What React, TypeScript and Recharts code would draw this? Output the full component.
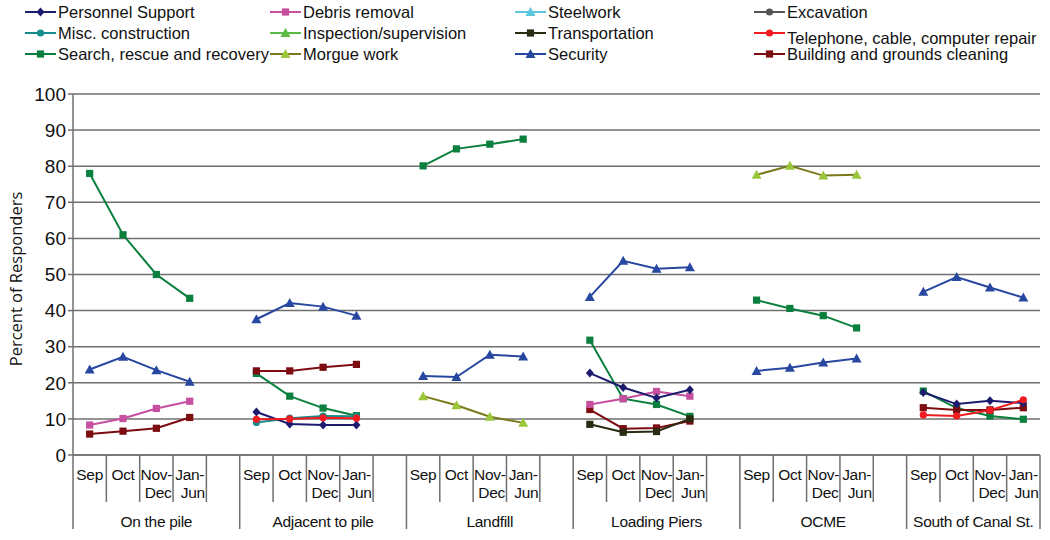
import React from 'react';
import { LineChart, Line, XAxis, YAxis, CartesianGrid } from 'recharts';

const W = 1050;
const H = 540;
const PLOT_LEFT = 73;
const PLOT_RIGHT = 1040;
const AXIS_Y = 455;
const TOP = 94;
const FONT = '"Liberation Sans", Arial, sans-serif';

const N = null;

// categories
const groups = ['On the pile', 'Adjacent to pile', 'Landfill', 'Loading Piers', 'OCME', 'South of Canal St.'];
const months = [['Sep'], ['Oct'], ['Nov-', 'Dec'], ['Jan-', 'Jun']];
const yTicks = [0, 10, 20, 30, 40, 50, 60, 70, 80, 90, 100];

// series values, 4 months x 6 groups
const personnel = [N, N, N, N, 11.9, 8.6, 8.3, 8.3, N, N, N, N, 22.7, 18.7, 15.8, 18.1, N, N, N, N, 17.3, 14.1, 15.0, 14.4];
const debris = [8.3, 10.1, 12.9, 14.9, N, N, N, N, N, N, N, N, 14.0, 15.6, 17.6, 16.3, N, N, N, N, N, N, N, N];
const steelwork = [N, N, N, N, N, N, N, N, N, N, N, N, N, N, N, N, N, N, N, N, N, N, N, N];
const excavation = [N, N, N, N, N, N, N, N, N, N, N, N, N, N, N, N, N, N, N, N, N, N, N, N];
const misc = [N, N, N, N, 9.0, 10.2, 10.8, 10.7, N, N, N, N, N, N, N, N, N, N, N, N, N, N, N, N];
const inspection = [N, N, N, N, N, N, N, N, N, N, N, N, N, N, N, N, N, N, N, N, N, N, N, N];
const transport = [N, N, N, N, N, N, N, N, N, N, N, N, 8.5, 6.3, 6.5, 10.0, N, N, N, N, N, N, N, N];
const telephone = [N, N, N, N, 9.9, 10.0, 10.3, 10.2, N, N, N, N, N, N, N, N, N, N, N, N, 11.1, 10.8, 12.4, 15.3];
const search = [78.0, 61.0, 50.0, 43.4, 22.6, 16.3, 13.0, 10.9, 80.1, 84.8, 86.1, 87.5, 31.8, 15.6, 14.0, 10.7, 42.9, 40.6, 38.6, 35.2, 17.7, 13.0, 10.8, 9.9];
const morgue = [N, N, N, N, N, N, N, N, 16.3, 13.8, 10.6, 8.9, N, N, N, N, 77.6, 80.1, 77.4, 77.6, N, N, N, N];
const security = [23.7, 27.2, 23.5, 20.3, 37.6, 42.1, 41.1, 38.6, 21.9, 21.6, 27.8, 27.3, 43.8, 53.8, 51.6, 52.0, 23.3, 24.2, 25.6, 26.7, 45.2, 49.3, 46.4, 43.6];
const building = [5.8, 6.6, 7.4, 10.4, 23.3, 23.3, 24.3, 25.1, N, N, N, N, 12.6, 7.3, 7.5, 9.4, N, N, N, N, 13.1, 12.5, 12.5, 13.1];

type Shape = 'diamond' | 'square' | 'triangle' | 'circle';
interface Series { key: string; name: string; values: (number | null)[]; color: string; marker: string; shape: Shape }

// legend order, row by row
const series: Series[] = [
  { key: 'personnel', name: 'Personnel Support', values: personnel, color: '#1d1b6e', marker: '#1d1b6e', shape: 'diamond' },
  { key: 'debris', name: 'Debris removal', values: debris, color: '#c64f9f', marker: '#c64f9f', shape: 'square' },
  { key: 'steelwork', name: 'Steelwork', values: steelwork, color: '#5cc6de', marker: '#5cc6de', shape: 'triangle' },
  { key: 'excavation', name: 'Excavation', values: excavation, color: '#555555', marker: '#555555', shape: 'circle' },
  { key: 'misc', name: 'Misc. construction', values: misc, color: '#168c8c', marker: '#168c8c', shape: 'circle' },
  { key: 'inspection', name: 'Inspection/supervision', values: inspection, color: '#5cbb45', marker: '#5cbb45', shape: 'triangle' },
  { key: 'transport', name: 'Transportation', values: transport, color: '#2b2b14', marker: '#2b2b14', shape: 'square' },
  { key: 'telephone', name: 'Telephone, cable, computer repair', values: telephone, color: '#f01c22', marker: '#f01c22', shape: 'circle' },
  { key: 'search', name: 'Search, rescue and recovery', values: search, color: '#0b7f3e', marker: '#0b7f3e', shape: 'square' },
  { key: 'morgue', name: 'Morgue work', values: morgue, color: '#7a7a1c', marker: '#9cc63a', shape: 'triangle' },
  { key: 'security', name: 'Security', values: security, color: '#2747a0', marker: '#2747a0', shape: 'triangle' },
  { key: 'building', name: 'Building and grounds cleaning', values: building, color: '#7c0c10', marker: '#7c0c10', shape: 'square' },
];

// drawing order (front-most last)
const drawOrder = ['search', 'morgue', 'security', 'building', 'transport', 'debris', 'misc', 'personnel', 'telephone'];

// 29 slots: 4 months per group and an empty slot between groups
const rows: any[] = [];
groups.forEach((g, gi) => {
  months.forEach((m, mi) => {
    const row: any = { cat: `${gi}-${mi}` };
    series.forEach((s) => { row[s.key] = s.values[gi * 4 + mi]; });
    rows.push(row);
  });
  if (gi < groups.length - 1) rows.push({ cat: `gap${gi}` });
});

const BAND = (PLOT_RIGHT - PLOT_LEFT) / rows.length;

const Marker = ({ shape, cx, cy, fill }: { shape: Shape; cx: number; cy: number; fill: string }) => {
  if (shape === 'square') return <rect x={cx - 3.6} y={cy - 3.6} width={7.2} height={7.2} fill={fill} />;
  if (shape === 'diamond') return <polygon points={`${cx},${cy - 4.5} ${cx + 4},${cy} ${cx},${cy + 4.5} ${cx - 4},${cy}`} fill={fill} />;
  if (shape === 'triangle') return <polygon points={`${cx},${cy - 5} ${cx + 5},${cy + 4} ${cx - 5},${cy + 4}`} fill={fill} />;
  return <circle cx={cx} cy={cy} r={3.6} fill={fill} />;
};

const makeDot = (s: Series) => (p: any) => {
  const { cx, cy, index, value } = p;
  if (cx == null || cy == null || value == null || Number.isNaN(cy)) return <g key={`${s.key}-e${index}`} />;
  return <Marker key={`${s.key}-${index}`} shape={s.shape} cx={cx} cy={cy} fill={s.marker} />;
};

const lineColor = '#6f6f6f';

const MonthTick = (props: any) => {
  const { x, payload } = props;
  const v: string = payload.value;
  if (v.startsWith('gap')) return <g />;
  const [gi, mi] = v.split('-').map(Number);
  const left = x - BAND / 2;
  const right = x + BAND / 2;
  const lastGroup = gi === groups.length - 1;
  const lab = months[mi];
  const txt = { fontFamily: FONT, fontSize: 15.5, fill: '#111', letterSpacing: -0.3 };
  return (
    <g>
      <line x1={right} x2={right} y1={AXIS_Y} y2={mi === 3 && lastGroup ? 529 : 502} stroke={lineColor} strokeWidth={1.5} />
      {mi === 0 && <line x1={left} x2={left} y1={AXIS_Y} y2={529} stroke={lineColor} strokeWidth={1.5} />}
      <text x={x} y={480} textAnchor="middle" {...txt}>{lab[0]}</text>
      {lab[1] && <text x={right - 1.5} y={498} textAnchor="end" {...txt}>{lab[1]}</text>}
      {mi === 0 && (
        <text x={left + (lastGroup ? 4 : 5) * BAND / 2} y={527} textAnchor="middle" {...txt}>{groups[gi]}</text>
      )}
    </g>
  );
};

const LEGEND_X = [25, 270, 515, 754];
const LEGEND_Y = [12, 33, 54];

const Overlay = () => (
  <svg width={W} height={H} style={{ position: 'absolute', left: 0, top: 0, pointerEvents: 'none' }}>
    {series.map((s, i) => {
      const x = LEGEND_X[i % 4];
      const y = LEGEND_Y[Math.floor(i / 4)];
      const ty = s.key === 'telephone' ? y + 5 : y;
      return (
        <g key={s.key}>
          <line x1={x} x2={x + 31} y1={y} y2={y} stroke={s.color} strokeWidth={2} />
          <Marker shape={s.shape} cx={x + 15.5} cy={y} fill={s.marker} />
          <text x={x + 33} y={ty} dominantBaseline="central" fontFamily={FONT} fontSize={16.5} fill="#111">{s.name}</text>
        </g>
      );
    })}
    <text
      x={15}
      y={279}
      transform="rotate(-90 15 279)"
      textAnchor="middle"
      dominantBaseline="central"
      fontFamily='"Open Sans", sans-serif'
      fontSize={16.5}
      fill="#111"
    >
      Percent of Responders
    </text>
  </svg>
);

export default function App() {
  return (
    <div style={{ position: 'absolute', left: 0, top: 0, width: W, height: H, background: '#fff' }}>
      <LineChart width={W} height={H} data={rows} margin={{ top: TOP, right: W - PLOT_RIGHT, left: PLOT_LEFT - 50, bottom: 0 }}>
        <CartesianGrid vertical={false} stroke={lineColor} strokeWidth={1.5} />
        <XAxis
          dataKey="cat"
          interval={0}
          height={H - AXIS_Y}
          padding={{ left: BAND / 2, right: BAND / 2 }}
          tickLine={false}
          axisLine={{ stroke: lineColor, strokeWidth: 1.5 }}
          tick={<MonthTick />}
        />
        <YAxis
          width={50}
          domain={[0, 100]}
          ticks={yTicks}
          interval={0}
          tickSize={5}
          tickLine={{ stroke: lineColor, strokeWidth: 1.5 }}
          axisLine={{ stroke: lineColor, strokeWidth: 1.5 }}
          tick={{ fontFamily: FONT, fontSize: 19, fill: '#111' }}
        />
        {drawOrder.map((k) => {
          const s = series.find((x) => x.key === k)!;
          return (
            <Line
              key={s.key}
              dataKey={s.key}
              name={s.name}
              type="linear"
              stroke={s.color}
              strokeWidth={2}
              dot={makeDot(s)}
              activeDot={false}
              isAnimationActive={false}
            />
          );
        })}
      </LineChart>
      <Overlay />
    </div>
  );
}
